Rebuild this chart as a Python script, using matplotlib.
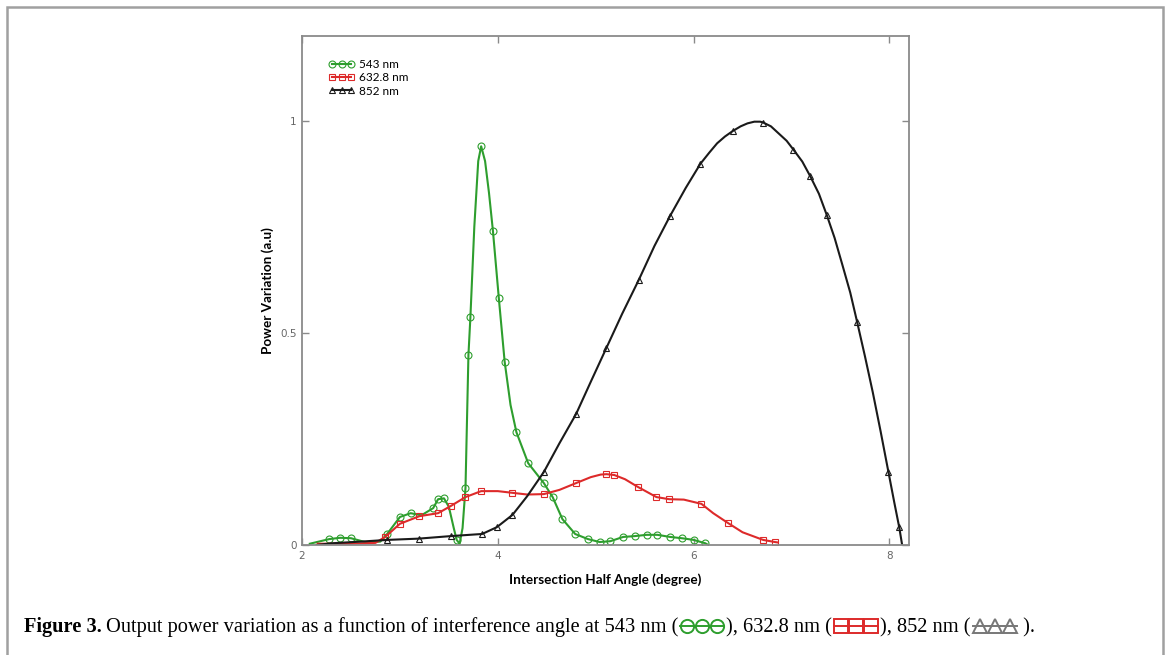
import matplotlib
matplotlib.use("Agg")
import matplotlib.pyplot as plt
from matplotlib.lines import Line2D
from matplotlib.patches import Rectangle
from matplotlib.transforms import IdentityTransform

# 543 nm curve and which of them carry a marker
green_x = [2.08, 2.28, 2.39, 2.50, 2.66, 2.80, 2.87, 3.00, 3.11, 3.22, 3.34, 3.39, 3.45, 3.50,
           3.55, 3.58, 3.61, 3.64, 3.67, 3.70, 3.72, 3.76, 3.80, 3.83, 3.87, 3.91, 3.95, 4.01,
           4.07, 4.13, 4.19, 4.31, 4.47, 4.56, 4.66, 4.79, 4.92, 5.04, 5.15, 5.28, 5.40, 5.52,
           5.63, 5.76, 5.88, 6.00, 6.12, 6.15]
green_y = [0.003, 0.014, 0.017, 0.016, 0.006, 0.008, 0.026, 0.066, 0.075, 0.070, 0.087, 0.108,
           0.110, 0.090, 0.040, 0.012, 0.003, 0.040, 0.135, 0.448, 0.537, 0.750, 0.905, 0.940,
           0.905, 0.830, 0.741, 0.583, 0.432, 0.330, 0.266, 0.193, 0.146, 0.113, 0.061, 0.026,
           0.014, 0.007, 0.009, 0.019, 0.021, 0.024, 0.024, 0.019, 0.016, 0.012, 0.004, 0.000]
green_marks = [1, 2, 3, 6, 7, 8, 10, 11, 12, 15, 18, 19, 20, 23, 26, 27, 28, 30, 31, 32, 33,
               34, 35, 36, 37, 38, 39, 40, 41, 42, 43, 44, 45, 46]

# 632.8 nm
red_x = [2.16, 2.50, 2.75, 2.85, 3.00, 3.20, 3.39, 3.52, 3.67, 3.83, 4.00, 4.15, 4.30, 4.47,
         4.63, 4.80, 4.95, 5.05, 5.11, 5.19, 5.30, 5.43, 5.62, 5.75, 5.90, 6.08, 6.20, 6.35,
         6.50, 6.71, 6.83, 6.86]
red_y = [0.003, 0.003, 0.005, 0.019, 0.050, 0.068, 0.075, 0.092, 0.113, 0.127, 0.127, 0.123,
         0.119, 0.120, 0.130, 0.146, 0.160, 0.166, 0.167, 0.165, 0.155, 0.137, 0.113, 0.108,
         0.107, 0.097, 0.075, 0.052, 0.030, 0.012, 0.007, 0.006]
red_marks = [3, 4, 5, 6, 7, 8, 9, 11, 13, 15, 18, 19, 21, 22, 23, 25, 27, 29, 30]

# 852 nm
black_x = [2.15, 2.30, 2.60, 2.87, 3.19, 3.52, 3.84, 3.99, 4.15, 4.30, 4.47, 4.63, 4.80, 4.95,
           5.11, 5.27, 5.44, 5.60, 5.76, 5.92, 6.07, 6.16, 6.24, 6.32, 6.40, 6.48, 6.55, 6.62,
           6.68, 6.71, 6.79, 6.87, 6.95, 7.02, 7.11, 7.19, 7.28, 7.36, 7.44, 7.52, 7.60, 7.67,
           7.75, 7.83, 7.91, 7.99, 8.05, 8.10, 8.13]
black_y = [0.000, 0.004, 0.008, 0.012, 0.015, 0.021, 0.026, 0.042, 0.071, 0.115, 0.172, 0.240,
           0.309, 0.385, 0.465, 0.545, 0.625, 0.705, 0.776, 0.842, 0.899, 0.925, 0.947, 0.963,
           0.976, 0.987, 0.994, 0.998, 0.998, 0.996, 0.987, 0.970, 0.953, 0.932, 0.904, 0.870,
           0.828, 0.778, 0.724, 0.660, 0.595, 0.526, 0.445, 0.360, 0.268, 0.172, 0.100, 0.042,
           0.000]
black_marks = [3, 4, 5, 6, 7, 8, 10, 12, 14, 16, 18, 20, 24, 29, 33, 35, 37, 41, 45, 47]

x_ticks = [2, 4, 6, 8]
y_ticks = [0, 0.5, 1]
y_tick_labels = ["0", "0.5", "1"]

GREEN = "#2e9e2e"
RED = "#dd2a2a"
BLACK = "#1a1a1a"
GRAY = "#8a8a8a"

W, H = 1170, 655
fig = plt.figure(figsize=(W / 100, H / 100), dpi=100)
fig.patches.append(Rectangle((7, -20), W - 14, H - 7 + 20, transform=IdentityTransform(),
                             fill=False, edgecolor="#a0a0a0", linewidth=1.8))

ax = fig.add_axes([302 / W, 1 - 545 / H, (909 - 302) / W, (545 - 36) / H])
series = [
    (green_x, green_y, green_marks, GREEN, "o", "543 nm"),
    (red_x, red_y, red_marks, RED, "s", "632.8 nm"),
    (black_x, black_y, black_marks, BLACK, "^", "852 nm"),
]
for xs, ys, marks, col, mk, lab in series:
    ax.plot(xs, ys, color=col, lw=1.5, marker=mk, markevery=marks, ms=5,
            mfc="none", mec=col, mew=0.8, label=lab)

ax.set_xlim(2, 8.2)
ax.set_ylim(0, 1.2)
ax.set_xticks(x_ticks)
ax.set_xticklabels([str(t) for t in x_ticks])
ax.set_yticks(y_ticks)
ax.set_yticklabels(y_tick_labels)
ax.tick_params(direction="in", length=5, width=1, color=GRAY, labelcolor="#666666",
               labelsize=7.5, top=True, right=True, pad=4)
for sp in ax.spines.values():
    sp.set_color(GRAY)
    sp.set_linewidth(1.3)

ax.set_xlabel("Intersection Half Angle (degree)", family="Lato", weight="bold", fontsize=9.7,
              labelpad=9)
ax.set_ylabel("Power Variation (a.u)", family="Lato", weight="bold", fontsize=9.7, labelpad=4)

leg = ax.legend(loc="upper left", bbox_to_anchor=(0.044, 0.955), frameon=False, numpoints=3,
                handlelength=2.2, handletextpad=0.4, labelspacing=0.2, borderaxespad=0,
                borderpad=0, prop={"family": "Lato", "size": 8.5})

# caption: text pieces with small line/marker glyphs between them
fig.canvas.draw()
rend = fig.canvas.get_renderer()
base_y = H - 632
cx = 24
cap_font = "Liberation Serif"
cap_size = 14.7


def put(s, bold=False):
    global cx
    t = fig.text(cx, base_y, s, transform=IdentityTransform(), family=cap_font,
                 size=cap_size, weight="bold" if bold else "normal", va="baseline")
    cx = t.get_window_extent(rend).x1


def glyph(col, mk):
    global cx
    w = 44
    yc = base_y + 6
    x0 = cx + 2
    fig.add_artist(Line2D([x0, x0 + 7, x0 + w / 2, x0 + w - 7, x0 + w], [yc] * 5,
                          transform=IdentityTransform(), color=col, lw=1.4, marker=mk,
                          markevery=[1, 2, 3], ms=9.5, mfc="none", mec=col, mew=1.4))
    cx = x0 + w + 2


put("Figure 3.", bold=True)
cx += 4
put("Output power variation as a function of interference angle at 543 nm (")
glyph(GREEN, "o")
put("), 632.8 nm (")
glyph(RED, "s")
put("), 852 nm (")
glyph("#777777", "^")
put(" ).")

fig.savefig("out.png", dpi=100)
